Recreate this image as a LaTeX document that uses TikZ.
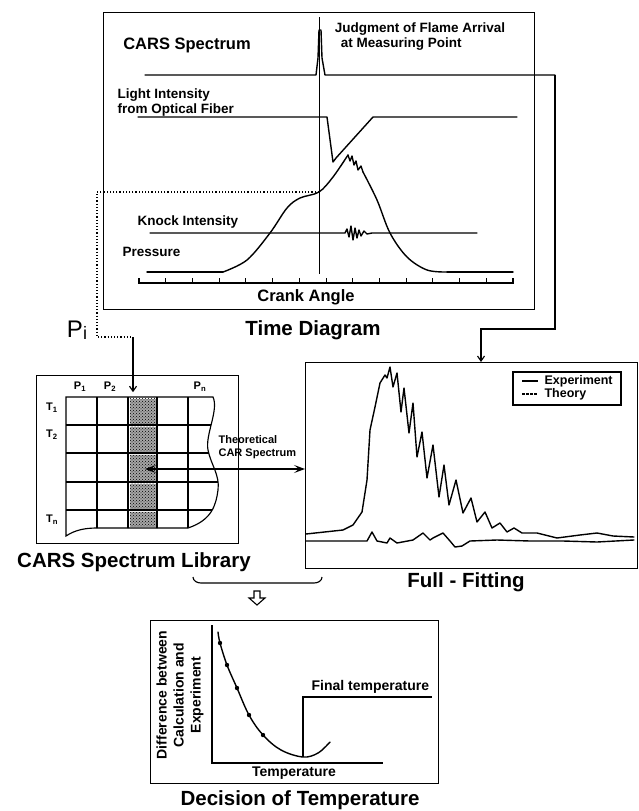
\documentclass[tikz,border=0pt]{standalone}
\usepackage{fontspec}
\setmainfont{Liberation Sans}
\usetikzlibrary{arrows.meta,patterns}

\tikzset{
	title/.style={font=\bfseries\fontsize{20.5}{22}\selectfont},
	lbl/.style={font=\bfseries\fontsize{13.5}{15}\selectfont, align=left, inner sep=0},
	tiny/.style={font=\bfseries\fontsize{11}{13}\selectfont, align=left, inner sep=0},
	box/.style={draw, line width=1.3pt, anchor=north west, inner sep=0},
	curve/.style={line width=1.4pt, line join=round, line cap=round},
	arr/.style={-{Straight Barb[length=5pt,width=7pt]}},
	cell/.style={fill=gray!70, postaction={pattern=crosshatch dots, pattern color=black}},
}

\begin{document}
\begin{tikzpicture}[x=1pt, y=-1pt, line width=1.15pt]
	\useasboundingbox (0,0) rectangle (639,811);

	% time diagram
	\node[box, minimum width=431, minimum height=297] (timebox) at (103,12) {};
	\node[title] (timett) at (313,330) {Time Diagram};
	\node[lbl, font=\bfseries\fontsize{16.5}{18}\selectfont] (carslbl) at (187,45) {CARS Spectrum};
	\node[lbl] (judge) at (420,37) {Judgment of Flame Arrival\\ \hspace{6pt}at Measuring Point};
	\node[lbl, anchor=west] (light) at (117,103) {Light Intensity\\from Optical Fiber};
	\node[lbl, anchor=west] (knock) at (137,222) {Knock Intensity};
	\node[lbl, anchor=west] (press) at (122,252) {Pressure};
	\node[lbl, font=\bfseries\fontsize{16.5}{18}\selectfont] (crank) at (306,297) {Crank Angle};
	\draw[line width=0.8pt] (319,17) -- (319,274);
	\draw[curve] (145,75) -- (316,75) -- (318,58) -- (319,30) -- (321,30) -- (322,58) -- (325,75) -- (555,75) coordinate (carsend);
	\draw[curve] (138,117) -- (327,117) -- (333,162) -- (336,158) -- (373,117) -- (517,117);
	\draw[curve] (150,233) -- (345,233) -- (347,229) -- (349,237) -- (351,226) -- (353,240) -- (355,228) -- (357,238) -- (359,230) -- (361,236) -- (364,231) -- (367,234) -- (372,233) -- (477,233);
	\draw[curve] (147,272) -- (223,272);
	\draw[curve] plot[smooth, tension=0.55] coordinates {(223,272) (247,260) (270,233) (287,208) (300,198) (319,192) (333,177) (348,155)};
	\draw[curve] (348,155) -- (350,161) -- (352,156) -- (354,165) -- (356,161) -- (358,170) -- (361,166) -- (363,172);
	\draw[curve] plot[smooth, tension=0.55] coordinates {(363,172) (377,200) (390,233) (407,257) (427,270) (447,272)};
	\draw[curve] (447,272) -- (513,272);
	\coordinate (pcross) at (319,192);
	\draw (139,278) -- (139,283) -- (513,283) -- (513,278);
	\foreach \i in {1,...,13}{
		\draw[line width=0.9pt] (139+26.71*\i,283) -- ++(0,-5);
	}

	% Pi connector
	\node[font=\fontsize{24}{24}\selectfont, inner sep=0] (pi) at (77,330) {P\raisebox{-2pt}{\fontsize{18}{18}\selectfont i}};
	\coordinate (pturn) at (133,337);
	\draw[dotted, line width=1.2pt] (pcross) -| (97,337) -- (pturn);

	% spectrum library
	\node[box, minimum width=202, minimum height=168] (libbox) at (36,375) {};
	\node[title] (libtt) at (134,562) {CARS Spectrum Library};
	\foreach \a\b in {397/425,425/453,453/482,482/510,510/528}{
		\fill[cell] (129.5,\a+1.5) rectangle (155.5,\b-1.5);
	}
	\begin{scope}
		\clip (66,397) -- (213,397) .. controls (219,410) and (205,435) .. (208,450) .. controls (211,465) and (220,475) .. (218,490) .. controls (216,505) and (212,520) .. (188,528) -- (97,528) .. controls (85,528) and (75,530) .. (66,536) -- cycle;
		\foreach \j in {425,453,482,510}{
			\draw (60,\j) -- (230,\j);
		}
		\foreach \i in {97,128,157,188}{
			\draw (\i,390) -- (\i,540);
		}
	\end{scope}
	\draw (66,397) -- (213,397) .. controls (219,410) and (205,435) .. (208,450) .. controls (211,465) and (220,475) .. (218,490) .. controls (216,505) and (212,520) .. (188,528) -- (97,528) .. controls (85,528) and (75,530) .. (66,536) -- cycle;
	\foreach \i\j in {80/1,110/2,200/n}{
		\node[tiny] (p\j) at (\i,387) {P\textsubscript{\j}};
	}
	\foreach \i\j in {408/1,435/2,520/n}{
		\node[tiny] (t\j) at (52,\i) {T\textsubscript{\j}};
	}
	\coordinate (sel) at (145,469);
	\draw[arr] (pturn) -- (pturn |- p2.south);

	% full fitting
	\node[box, minimum width=332, minimum height=206] (fit) at (305,362) {};
	\node[title] (fittt) at (466,582) {Full - Fitting};
	\node[tiny, anchor=west] (theo) at (218,447) {Theoretical\\CAR Spectrum};
	\draw[{Stealth[length=11pt,width=8pt,inset=5pt]}-{Stealth[length=11pt,width=8pt,inset=5pt]}] (sel) -- (sel -| fit.west);
	\coordinate (bend) at (481,329);
	\draw[arr] (carsend) |- (bend) -- (bend |- fit.north);
	\draw[curve] plot coordinates {(306,534) (343,530) (353,525) (362,512) (367,480) (370,430) (375,407) (380,383) (385,375) (387,378) (390,367) (393,387) (397,373) (401,412) (404,388) (409,433) (413,403) (417,457) (422,432) (427,478) (433,445) (439,497) (444,465) (449,505) (456,480) (463,513) (471,498) (477,522) (485,512) (492,528) (500,523) (507,532) (514,528) (522,533) (537,533) (557,538) (580,535) (597,533) (613,536) (634,537)};
	\draw[curve] plot coordinates {(306,541) (367,541) (372,532) (377,541) (387,543) (390,538) (397,543) (413,540) (423,533) (430,540) (433,538) (443,533) (450,541) (455,547) (462,546) (470,541) (497,540) (530,541) (563,541) (597,542) (634,540)};
	\draw (513,372) rectangle (621,405);
	\draw (522,381) -- (538,381);
	\draw[dashed, dash pattern=on 3pt off 1pt] (522,394) -- (538,394);
	\node[lbl, font=\bfseries\fontsize{12.5}{14}\selectfont, anchor=west] (exp) at (544,381) {Experiment};
	\node[lbl, font=\bfseries\fontsize{12.5}{14}\selectfont, anchor=west] (theory) at (544,394) {Theory};

	% bracket and decision
	\draw (193,577) to[out=-90,in=180] (201,583) -- (314,583) to[out=0,in=-90] (322,577);
	\draw[line width=1.1pt] (254,591) -- (260,591) -- (260,598) -- (265,598) -- (257,605) -- (249,598) -- (254,598) -- cycle;
	\node[box, minimum width=288, minimum height=163] (decbox) at (150,620) {};
	\node[title] (dectt) at (300,800) {Decision of Temperature};
	\draw (212,625) -- (212,763) -- (383,763);
	\draw[curve] plot[smooth, tension=0.6] coordinates {(218,632) (220,643) (227,665) (237,688) (249,715) (263,735) (281,750) (303,757) (318,753) (330,742)};
	\foreach \i\j in {220/643,227/665,237/688,249/715,263/735}{
		\fill (\i,\j) circle (2.2);
	}
	\draw (303,757) -- (303,697) -- (432,697);
	\node[lbl, font=\bfseries\fontsize{14}{16}\selectfont, anchor=west] (final) at (311,687) {Final temperature};
	\node[lbl, font=\bfseries\fontsize{14}{16}\selectfont] (tempx) at (294,773) {Temperature};
	\node[lbl, font=\bfseries\fontsize{14}{17}\selectfont, align=center, rotate=90] (diff) at (180,695) {Difference between\\Calculation and\\Experiment};
\end{tikzpicture}
\end{document}
